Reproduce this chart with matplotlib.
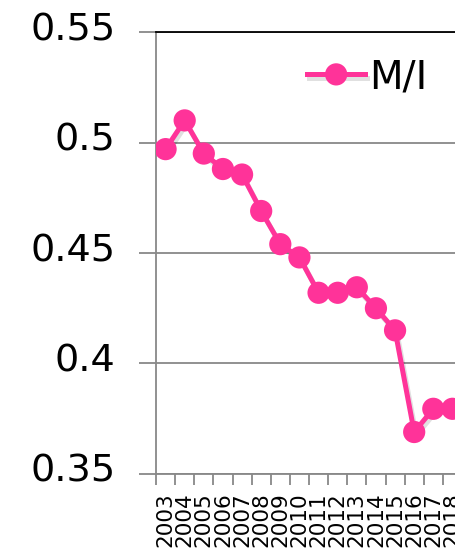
import matplotlib
matplotlib.use("Agg")
import matplotlib.pyplot as plt
import matplotlib.patheffects as pe
from matplotlib.transforms import ScaledTranslation

years = [2003, 2004, 2005, 2006, 2007, 2008, 2009, 2010, 2011, 2012,
         2013, 2014, 2015, 2016, 2017, 2018]
mi = [0.497, 0.510, 0.495, 0.488, 0.4855, 0.469, 0.454, 0.448, 0.432, 0.432,
      0.4345, 0.425, 0.415, 0.369, 0.3795, 0.3795]
yticks = [0.35, 0.4, 0.45, 0.5, 0.55]
ytick_labels = ["0.35", "0.4", "0.45", "0.5", "0.55"]

plt.rcParams['font.family'] = ['DejaVu Sans']

fig = plt.figure(figsize=(4.55, 5.5), dpi=100)
W, H = 455, 550
left, right, top, bottom = 156, 462, 32, 474
ax = fig.add_axes([left / W, 1 - bottom / H, (right - left) / W, (bottom - top) / H])

pink = '#FF3399'
ax.plot(years, mi, color=pink, lw=3.6, marker='o', markersize=16,
        markeredgewidth=0, label='M/I', zorder=3,
        path_effects=[pe.SimpleLineShadow(offset=(1.5, -2.5), shadow_color='black', alpha=0.12),
                      pe.Normal()])

ax.set_xlim(2002.5, 2018.5)
ax.set_ylim(0.35, 0.55)
ax.set_yticks(yticks)
ax.set_yticklabels(ytick_labels, fontsize=27.5)
ax.set_xticks(years)
ax.set_xticklabels([str(y) for y in years], rotation=90, fontsize=15.5, va='top')
ax.set_xticks([y + 0.5 for y in years[:-1]] + [2002.5], minor=True)

grey = '#888888'
ax.grid(axis='y', color=grey, lw=1.3, zorder=0)
ax.tick_params(axis='y', length=12, width=1.3, color=grey, pad=17)
ax.tick_params(axis='x', which='major', length=0, pad=13)
ax.tick_params(axis='x', which='minor', length=8, width=1.3, color=grey)
shift = ScaledTranslation(0, 6 / 100, fig.dpi_scale_trans)
for lbl in ax.get_yticklabels():
    lbl.set_transform(lbl.get_transform() + shift)
for s in ['left', 'bottom']:
    ax.spines[s].set_color(grey)
    ax.spines[s].set_linewidth(1.3)
ax.spines['top'].set_color('black')
ax.spines['top'].set_linewidth(1.3)
ax.spines['right'].set_visible(False)

leg = ax.legend(loc='center left', bbox_to_anchor=(307 / W, 1 - 77 / H),
                bbox_transform=fig.transFigure, frameon=False, fontsize=28,
                handlelength=1.5, handletextpad=0.1, borderpad=0, borderaxespad=0,
                numpoints=1)

fig.savefig('out.png', dpi=100)
